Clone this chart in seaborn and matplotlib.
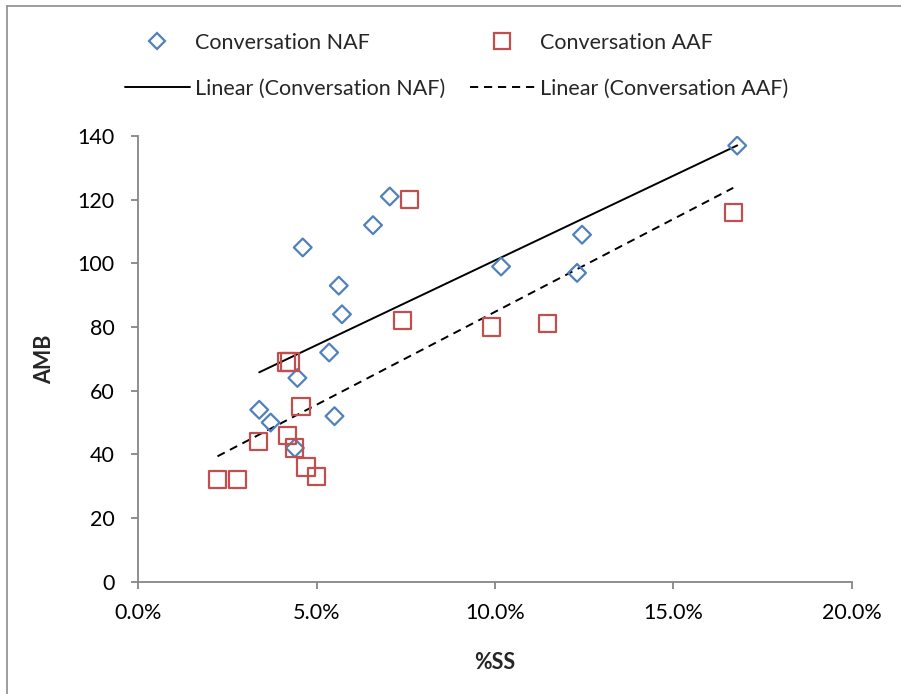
import numpy as np
import pandas as pd
import seaborn as sns
import matplotlib.pyplot as plt
from matplotlib.lines import Line2D
from matplotlib.ticker import PercentFormatter, MultipleLocator

# data (%SS as fraction, AMB)
naf_ss = [0.0339, 0.0371, 0.0446, 0.0439, 0.0461, 0.0535, 0.0550, 0.0562,
          0.0571, 0.0658, 0.0705, 0.1017, 0.1230, 0.1244, 0.1679]
naf_amb = [54, 50, 64, 42, 105, 72, 52, 93, 84, 112, 121, 99, 97, 109, 137]

aaf_ss = [0.0222, 0.0278, 0.0336, 0.0419, 0.0437, 0.0415, 0.0425, 0.0456,
          0.0470, 0.0500, 0.0741, 0.0760, 0.0991, 0.1147, 0.1668]
aaf_amb = [32, 32, 44, 46, 42, 69, 69, 55, 36, 33, 82, 120, 80, 81, 116]

BLUE = "#4F81BD"
RED = "#C0504D"
GREY = "#868686"

sns.set_style("white")
plt.rcParams["font.family"] = ["Lato", "DejaVu Sans"]
plt.rcParams["font.size"] = 15.5

fig = plt.figure(figsize=(9.01, 6.94), dpi=100)
ax = fig.add_axes([0.1535, 0.1618, 0.7918, 0.6422])

sns.scatterplot(x=naf_ss, y=naf_amb, marker="D", s=82, color=BLUE,
                facecolor="none", edgecolor=BLUE, linewidth=1.6, ax=ax, zorder=3)
sns.scatterplot(x=aaf_ss, y=aaf_amb, marker="s", s=155, color=RED,
                facecolor="none", edgecolor=RED, linewidth=1.6, ax=ax, zorder=3)

# linear trendlines
sns.regplot(x=naf_ss, y=naf_amb, scatter=False, ci=None, truncate=True, ax=ax,
            line_kws=dict(color="black", lw=1.4, zorder=2))
sns.regplot(x=aaf_ss, y=aaf_amb, scatter=False, ci=None, truncate=True, ax=ax,
            line_kws=dict(color="black", lw=1.4, ls=(0, (4.2, 3)), zorder=2))

ax.set_xlim(0, 0.2)
ax.set_ylim(0, 140)
ax.xaxis.set_major_locator(MultipleLocator(0.05))
ax.yaxis.set_major_locator(MultipleLocator(20))
ax.xaxis.set_major_formatter(PercentFormatter(1.0, decimals=1))

sns.despine(ax=ax)
for side in ["left", "bottom"]:
    ax.spines[side].set_color(GREY)
    ax.spines[side].set_linewidth(1.3)
ax.tick_params(axis="both", left=True, bottom=True, direction="out",
               length=5, width=1.3, color=GREY, labelsize=15.5, labelcolor="black")
ax.tick_params(axis="y", pad=12)
ax.tick_params(axis="x", pad=10)

ax.set_xlabel("%SS", fontweight="bold", fontsize=15.5)
ax.set_ylabel("AMB", fontweight="bold", fontsize=15.5)
ax.xaxis.set_label_coords(0.5, -0.158)
ax.yaxis.set_label_coords(-0.117, 0.5)

# legend, two columns placed like the original
h_naf = Line2D([], [], ls="none", marker="D", ms=8.5, mfc="none", mec=BLUE, mew=1.6)
h_aaf = Line2D([], [], ls="none", marker="s", ms=11.5, mfc="none", mec=RED, mew=1.6)
h_lnaf = Line2D([], [], color="black", lw=1.4)
h_laaf = Line2D([], [], color="black", lw=1.4, ls=(0, (4.2, 3)))

leg_kw = dict(frameon=False, fontsize=15.5, handlelength=3.0, handletextpad=0.25,
              labelspacing=1.2, borderpad=0, borderaxespad=0, loc="upper left")
fig.legend([h_naf, h_lnaf], ["Conversation NAF", "Linear (Conversation NAF)"],
           bbox_to_anchor=(0.1387, 0.953), **leg_kw)
fig.legend([h_aaf, h_laaf], ["Conversation AAF", "Linear (Conversation AAF)"],
           bbox_to_anchor=(0.5216, 0.953), **leg_kw)

# chart area border (only left and top visible in the crop)
fig.add_artist(Line2D([0.0078, 0.0078], [0, 0.9914], color="#8C8C8C", lw=1.2))
fig.add_artist(Line2D([0.0078, 1], [0.9914, 0.9914], color="#8C8C8C", lw=1.2))

fig.savefig("out.png", dpi=100)
